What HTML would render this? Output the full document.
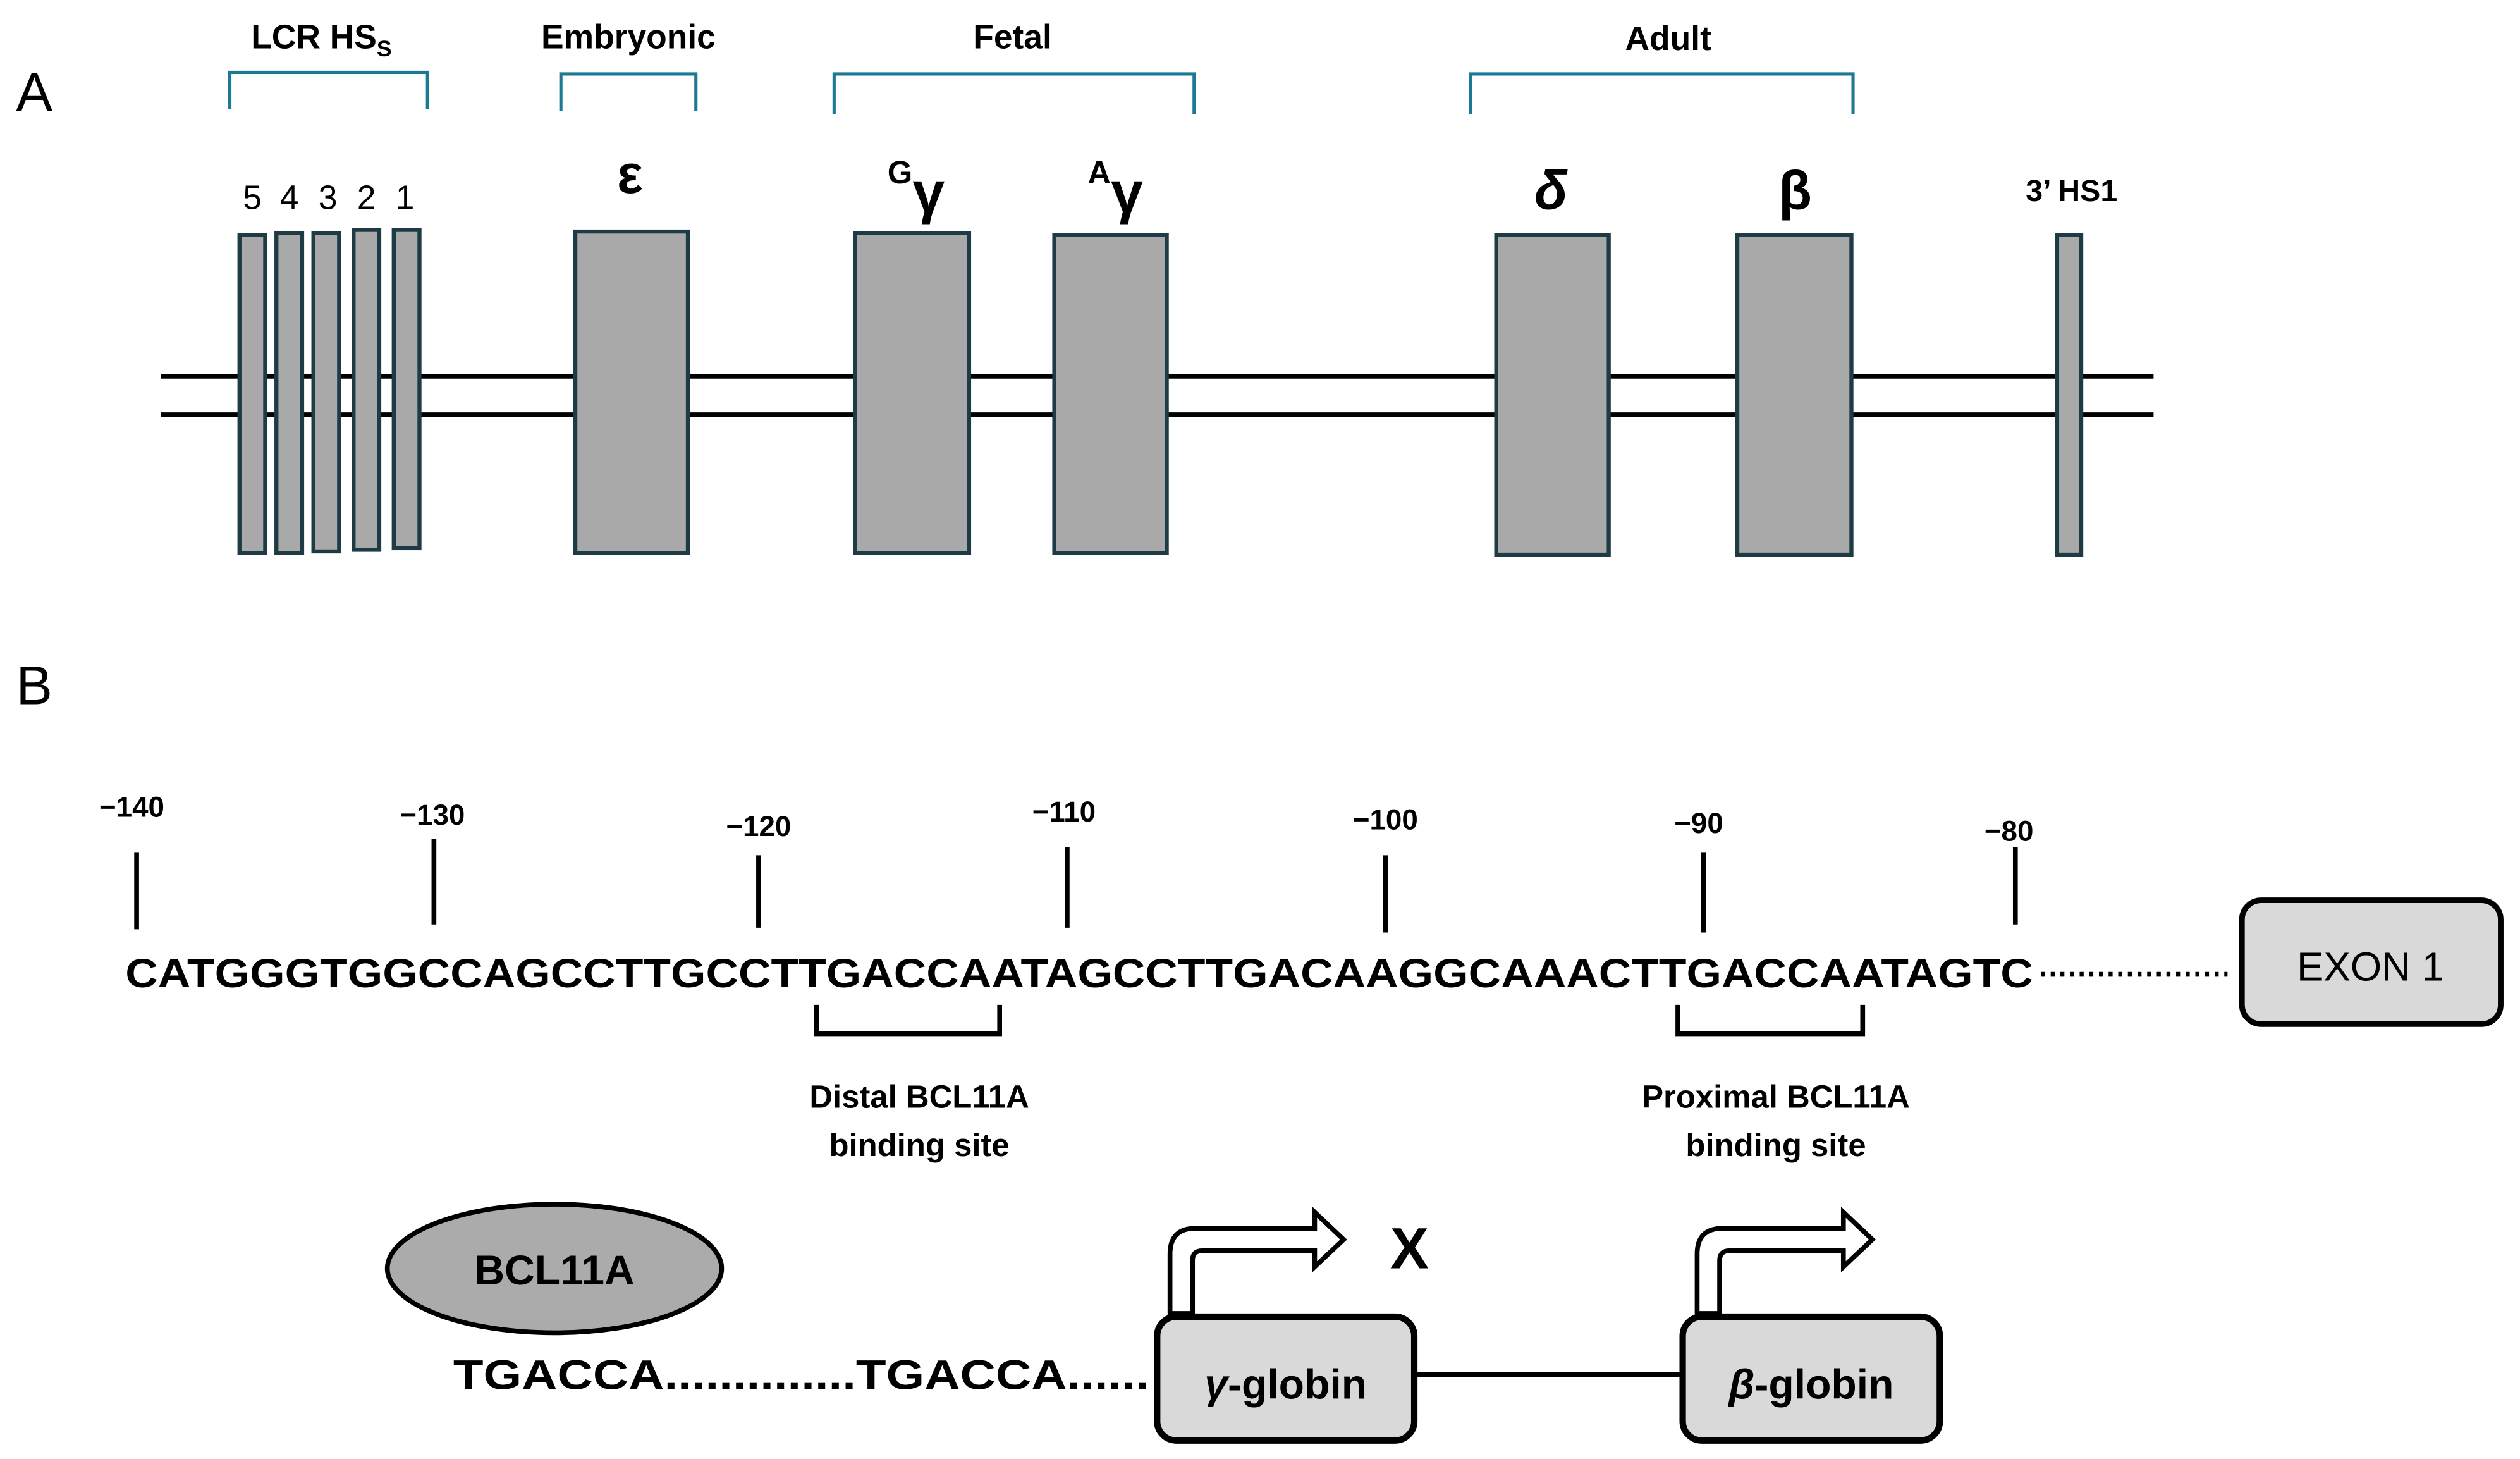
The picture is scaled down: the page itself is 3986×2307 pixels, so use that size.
<!DOCTYPE html>
<html><head><meta charset="utf-8"><style>html,body{margin:0;padding:0;background:#fff}svg{display:block}</style></head>
<body>
<svg width="3986" height="2307" viewBox="0 0 1568 907.5" xmlns="http://www.w3.org/2000/svg" font-family="Liberation Sans, sans-serif">
<rect width="1568" height="907.5" fill="#fff"/>
<text x="10" y="69" font-size="34">A</text>
<text x="10" y="438" font-size="34">B</text>
<g font-weight="bold" font-size="21" text-anchor="middle">
<text x="200" y="30">LCR HS<tspan font-size="14" dy="5">S</tspan></text>
<text x="391" y="30">Embryonic</text>
<text x="630" y="30">Fetal</text>
<text x="1038" y="31">Adult</text>
</g>
<g fill="none" stroke="#1a7a94" stroke-width="2">
<path d="M143 68V45H266V68"/><path d="M349 69V46H433V69"/><path d="M519 71V46H743V71"/><path d="M915 71V46H1153V71"/>
</g>
<g stroke="#000" stroke-width="3"><line x1="100" y1="234" x2="1340" y2="234"/><line x1="100" y1="258" x2="1340" y2="258"/></g>
<g fill="#a9a9a9" stroke="#1e3a44" stroke-width="2.5">
<rect x="149" y="146" width="16" height="198"/><rect x="172" y="145" width="16" height="199"/><rect x="195" y="145" width="16" height="198"/><rect x="220" y="143" width="16" height="199"/><rect x="245" y="143" width="16" height="198"/>
<rect x="358" y="144" width="70" height="200"/><rect x="532" y="145" width="71" height="199"/><rect x="656" y="146" width="70" height="198"/>
<rect x="931" y="146" width="70" height="199"/><rect x="1081" y="146" width="71" height="199"/><rect x="1280" y="146" width="15" height="199"/>
</g>
<g font-size="21" text-anchor="middle"><text x="157" y="130">5</text><text x="180" y="130">4</text><text x="204" y="130">3</text><text x="228" y="130">2</text><text x="252" y="130">1</text></g>
<g font-weight="bold" text-anchor="middle">
<text x="392" y="120" font-size="34">ε</text>
<text x="570" y="132" font-size="36"><tspan font-size="20" dy="-18">G</tspan><tspan dy="18">γ</tspan></text>
<text x="694" y="132" font-size="36"><tspan font-size="20" dy="-18">A</tspan><tspan dy="18">γ</tspan></text>
<text x="965" y="130" font-size="34" font-style="italic">δ</text>
<text x="1117" y="130" font-size="34">β</text>
<text x="1289" y="125" font-size="19">3’ HS1</text>
</g>
<g font-weight="bold" font-size="18" text-anchor="middle">
<text x="82" y="508">−140</text><text x="269" y="513">−130</text><text x="472" y="520">−120</text><text x="662" y="511">−110</text><text x="862" y="516">−100</text><text x="1057" y="518">−90</text><text x="1250" y="523">−80</text>
</g>
<g stroke="#000" stroke-width="3">
<line x1="85" y1="530" x2="85" y2="578"/><line x1="270" y1="522" x2="270" y2="575"/><line x1="472" y1="532" x2="472" y2="577"/><line x1="664" y1="527" x2="664" y2="577"/><line x1="862" y1="532" x2="862" y2="580"/><line x1="1060" y1="530" x2="1060" y2="580"/><line x1="1254" y1="527" x2="1254" y2="575"/>
</g>
<text x="78" y="614" font-weight="bold" font-size="25" textLength="1187" lengthAdjust="spacingAndGlyphs">CATGGGTGGCCAGCCTTGCCTTGACCAATAGCCTTGACAAGGCAAACTTGACCAATAGTC</text>
<line x1="1270" y1="606" x2="1386" y2="606" stroke="#000" stroke-width="3" stroke-dasharray="2.5 3.5"/>
<rect x="1395" y="560" width="161" height="77" rx="12" fill="#d9d9d9" stroke="#000" stroke-width="3.5"/>
<text x="1475" y="610" font-size="25" text-anchor="middle">EXON 1</text>
<g fill="none" stroke="#000" stroke-width="3"><path d="M508 625V643H622V625"/><path d="M1044 625V643H1159V625"/></g>
<g font-weight="bold" font-size="20" text-anchor="middle">
<text x="572" y="689">Distal BCL11A</text><text x="572" y="719">binding site</text>
<text x="1105" y="689">Proximal BCL11A</text><text x="1105" y="719">binding site</text>
</g>
<ellipse cx="345" cy="789" rx="104" ry="40" fill="#ababab" stroke="#000" stroke-width="3"/>
<text x="345" y="799" font-weight="bold" font-size="26" text-anchor="middle">BCL11A</text>
<text x="282" y="864" font-weight="bold" font-size="26" textLength="433" lengthAdjust="spacingAndGlyphs">TGACCA..............TGACCA......</text>
<line x1="880" y1="855" x2="1047" y2="855" stroke="#000" stroke-width="3"/>
<rect x="720" y="819" width="160" height="77" rx="12" fill="#d9d9d9" stroke="#000" stroke-width="4"/>
<rect x="1047" y="819" width="160" height="77" rx="12" fill="#d9d9d9" stroke="#000" stroke-width="4"/>
<g font-weight="bold" font-size="26" text-anchor="middle">
<text x="800" y="870"><tspan font-style="italic">γ</tspan>-globin</text>
<text x="1127" y="870"><tspan font-style="italic">β</tspan>-globin</text>
</g>
<path d="M728 817V780Q728 764 744 764H818V754L836 771L818 788V778H748Q742 778 742 784V817Z" fill="#fff" stroke="#000" stroke-width="3" stroke-linejoin="miter"/>
<path d="M1056 817V780Q1056 764 1072 764H1147V754L1165 771L1147 788V778H1076Q1070 778 1070 784V817Z" fill="#fff" stroke="#000" stroke-width="3" stroke-linejoin="miter"/>
<text x="877" y="789" font-weight="bold" font-size="36" text-anchor="middle">X</text>
</svg>
</body></html>
